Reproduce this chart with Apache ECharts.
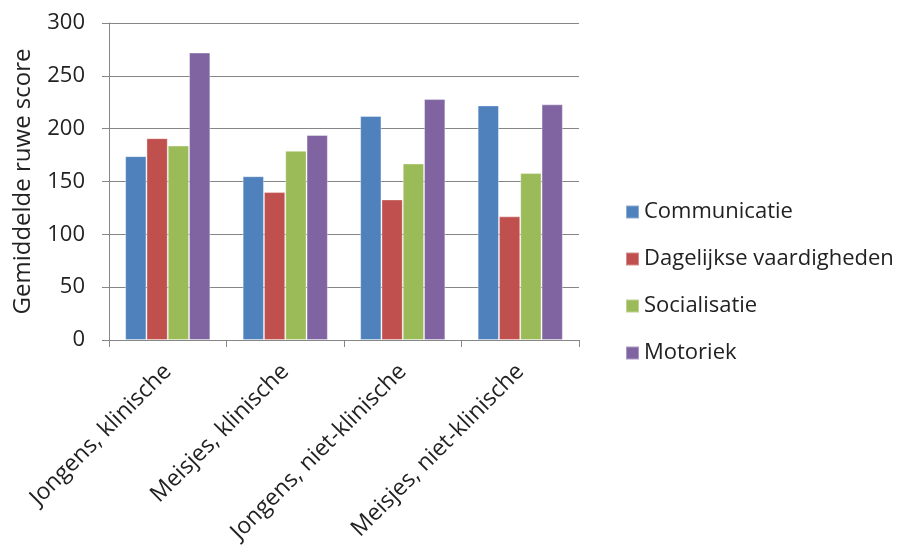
<!DOCTYPE html>
<html>
<head>
<meta charset="utf-8">
<script src="https://cdn.jsdelivr.net/npm/echarts@6/dist/echarts.min.js"></script>
<style>
  html, body { margin: 0; padding: 0; background: #fff; }
  #main { width: 907px; height: 550px; }
</style>
</head>
<body>
<div id="main"></div>
<script>
var groups = ['Jongens, klinische', 'Meisjes, klinische', 'Jongens, niet-klinische', 'Meisjes, niet-klinische'];
var seriesNames = ['Communicatie', 'Dagelijkse vaardigheden', 'Socialisatie', 'Motoriek'];
var communicatie = [174, 155, 212, 222];
var dagelijks = [191, 140, 133, 117];
var socialisatie = [184, 179, 167, 158];
var motoriek = [272, 194, 228, 223];
var colors = ['#4F81BD', '#C0504D', '#9BBB59', '#8064A2'];

var chart = echarts.init(document.getElementById('main'));
var font = 'Open Sans';
var values = [communicatie, dagelijks, socialisatie, motoriek];

var option = {
  animation: false,
  textStyle: { fontFamily: font },
  grid: { left: 109, right: 328, top: 23, bottom: 210, containLabel: false },
  legend: {
    orient: 'vertical',
    left: 620,
    top: 195,
    itemWidth: 13,
    itemHeight: 13,
    itemGap: 23,
    icon: 'rect',
    textStyle: { fontFamily: font, fontSize: 22, lineHeight: 24, color: '#222', padding: [0, 0, 0, 0] },
    data: seriesNames
  },
  xAxis: {
    type: 'category',
    data: groups,
    axisLine: { lineStyle: { color: '#868686', width: 1 } },
    axisTick: { show: true, length: 7, lineStyle: { color: '#868686' } },
    axisLabel: {
      rotate: 45,
      fontFamily: font,
      fontSize: 23,
      color: '#222',
      margin: 28,
      interval: 0
    }
  },
  yAxis: {
    type: 'value',
    min: 0,
    max: 300,
    interval: 50,
    name: 'Gemiddelde ruwe score',
    nameLocation: 'middle',
    nameGap: 74,
    nameTextStyle: { fontFamily: font, fontSize: 24, color: '#222' },
    axisLine: { show: true, lineStyle: { color: '#868686' } },
    axisTick: { show: true, length: 7, lineStyle: { color: '#868686' } },
    axisLabel: { fontFamily: font, fontSize: 22, color: '#222', margin: 24 },
    splitLine: { show: true, lineStyle: { color: '#868686', width: 1 } }
  },
  series: seriesNames.map(function (name, i) {
    return {
      name: name,
      type: 'bar',
      data: values[i],
      barGap: '0%',
      barCategoryGap: '27.5%',
      itemStyle: { color: colors[i], borderColor: 'rgba(255,255,255,0.35)', borderWidth: 1 }
    };
  })
};

chart.setOption(option);
</script>
</body>
</html>
